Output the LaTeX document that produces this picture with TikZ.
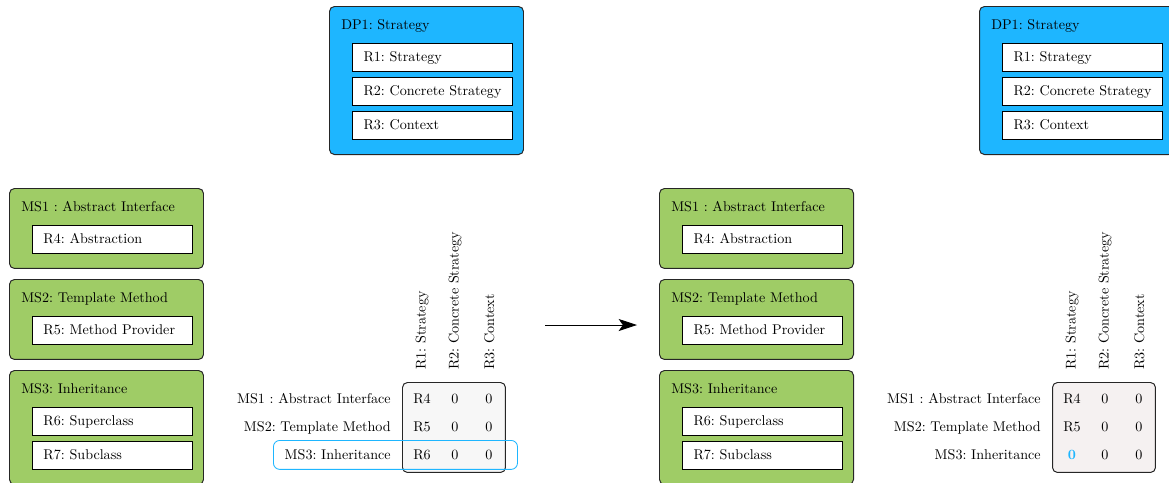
\documentclass[tikz,border=0pt]{standalone}
\usetikzlibrary{arrows.meta}
\frenchspacing
\definecolor{dpblue}{RGB}{30,182,255}
\definecolor{msgreen}{RGB}{159,204,102}
\definecolor{matgrayA}{RGB}{247,247,247}
\definecolor{matgrayB}{RGB}{245,241,241}
\newcommand\roletext[1]{\makebox[97.7pt][l]{#1}}
\tikzset{
  panel/.style={draw=black!85, line width=0.7pt, rounded corners=3.5pt,
    anchor=north west, inner sep=0pt, minimum width=137.35pt},
  dppanel/.style={panel, fill=dpblue, minimum height=104.8pt},
  mspanel/.style={panel, fill=msgreen},
  paneltitle/.style={anchor=base west, inner sep=0pt},
  role/.style={draw=black, line width=0.7pt, fill=white, anchor=north west,
    minimum height=19.8pt, inner xsep=7.79pt, inner ysep=0pt,
    text height=6.8pt, text depth=0.6pt},
  matbox/.style={draw=black!85, line width=0.7pt, rounded corners=3.5pt,
    anchor=north west, inner sep=0pt, minimum width=72.9pt, minimum height=63.7pt},
  colhead/.style={rotate=90, anchor=base west, inner sep=0pt},
  rowhead/.style={anchor=base east, inner sep=0pt},
  cell/.style={anchor=base, inner sep=0pt},
  pick/.style={draw=dpblue, line width=0.6pt, rounded corners=4.5pt,
    anchor=north west, inner sep=0pt, minimum width=172.8pt, minimum height=20.5pt},
  flow/.style={line width=0.6pt, -{Stealth[length=13pt, width=8.5pt, inset=3pt]}}
}
% design parameter panel: #1 name prefix, #2 horizontal offset
\newcommand\designpanel[2]{%
  \node[dppanel] (#1dp) at (#2+329,6) {};
  \node[paneltitle] (#1dpt) at (#2+341,29) {DP1: Strategy};
  \node[role] (#1r1) at (#2+352,43) {\roletext{R1: Strategy}};
  \node[role] (#1r2) at (#2+352,77) {\roletext{R2: Concrete Strategy}};
  \node[role] (#1r3) at (#2+352,111) {\roletext{R3: Context}};
}
% mechanism panels: #1 name prefix, #2 horizontal offset
\newcommand\mechpanels[2]{%
  \node[mspanel, minimum height=56.6pt] (#1ms1) at (#2+9,188) {};
  \node[paneltitle] (#1ms1t) at (#2+21,211) {MS1 : Abstract Interface};
  \node[role] (#1r4) at (#2+32,225) {\roletext{R4: Abstraction}};
  \node[mspanel, minimum height=56.6pt] (#1ms2) at (#2+9,279) {};
  \node[paneltitle] (#1ms2t) at (#2+21,302) {MS2: Template Method};
  \node[role] (#1r5) at (#2+32,316) {\roletext{R5: Method Provider}};
  \node[mspanel, minimum height=80.7pt] (#1ms3) at (#2+9,370) {};
  \node[paneltitle] (#1ms3t) at (#2+21,393) {MS3: Inheritance};
  \node[role] (#1r6) at (#2+32,407) {\roletext{R6: Superclass}};
  \node[role] (#1r7) at (#2+32,441) {\roletext{R7: Subclass}};
}
% matrix headers: #1 name prefix, #2 horizontal offset
\newcommand\matheads[2]{%
  \node[colhead] (#1h1) at (#2+425.5,370) {R1: Strategy};
  \node[colhead] (#1h2) at (#2+458.5,370) {R2: Concrete Strategy};
  \node[colhead] (#1h3) at (#2+494,370) {R3: Context};
  \node[rowhead] (#1m1) at (#2+391,403) {MS1 : Abstract Interface};
  \node[rowhead] (#1m2) at (#2+391,431) {MS2: Template Method};
  \node[rowhead] (#1m3) at (#2+391,459) {MS3: Inheritance};
}
\begin{document}
\begin{tikzpicture}[x=0.708pt, y=-0.708pt]
\useasboundingbox (0,0) rectangle (1169,482);

% ---- before ----
\designpanel{a}{0}
\mechpanels{a}{0}
\node[matbox, fill=matgrayA] (amat) at (402,382) {};
\matheads{a}{0}
\node[cell] (a11) at (422,403) {R4};
\node[cell] (a12) at (455,403) {0};
\node[cell] (a13) at (489,403) {0};
\node[cell] (a21) at (422,431) {R5};
\node[cell] (a22) at (455,431) {0};
\node[cell] (a23) at (489,431) {0};
\node[cell] (a31) at (422,459) {R6};
\node[cell] (a32) at (455,459) {0};
\node[cell] (a33) at (489,459) {0};
\node[pick] (apick) at (273,440) {};

% ---- transition ----
\coordinate (s0) at (545,325);
\coordinate (s1) at (637,325);
\draw[flow] (s0) -- (s1);

% ---- after ----
\designpanel{b}{650}
\mechpanels{b}{650}
\node[matbox, fill=matgrayB] (bmat) at (1052,382) {};
\matheads{b}{650}
\node[cell] (b11) at (1072,403) {R4};
\node[cell] (b12) at (1105,403) {0};
\node[cell] (b13) at (1139,403) {0};
\node[cell] (b21) at (1072,431) {R5};
\node[cell] (b22) at (1105,431) {0};
\node[cell] (b23) at (1139,431) {0};
\node[cell, text=dpblue] (b31) at (1072,459) {\textbf{0}};
\node[cell] (b32) at (1105,459) {0};
\node[cell] (b33) at (1139,459) {0};
\end{tikzpicture}
\end{document}
